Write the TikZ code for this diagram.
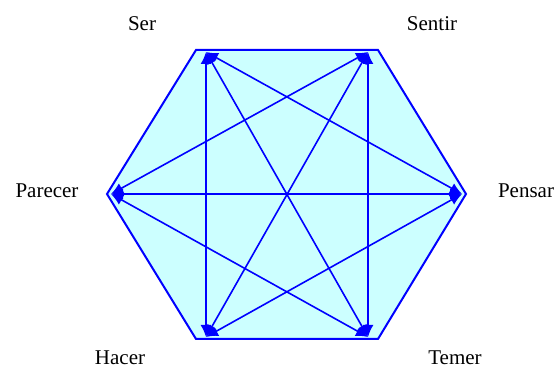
\documentclass[tikz,border=0pt]{standalone}
\usepackage{fontspec}
\setmainfont{Liberation Serif}
\usetikzlibrary{arrows.meta}
\definecolor{hexfill}{RGB}{204,255,255}
\definecolor{hexblue}{RGB}{0,0,255}
\begin{document}
\begin{tikzpicture}[x=1pt,y=-1pt,
	link/.style={hexblue,line width=1.6pt,{Latex[length=12pt,width=11pt]}-{Latex[length=12pt,width=11pt]}},
	word/.style={anchor=base,font=\fontsize{21}{24}\selectfont}]
				\useasboundingbox (0,0) rectangle (560,371);
				% corners of the hexagon
				\coordinate (c1) at (196,50);
				\coordinate (c2) at (378,50);
				\coordinate (c3) at (466,194);
				\coordinate (c4) at (378,339);
				\coordinate (c5) at (196,339);
				\coordinate (c6) at (107,194);
				% the six points
				\coordinate (Ser) at (206,52);
				\coordinate (Sentir) at (368,52);
				\coordinate (Pensar) at (462,194);
				\coordinate (Temer) at (368,337);
				\coordinate (Hacer) at (206,337);
				\coordinate (Parecer) at (111,194);
				\filldraw[fill=hexfill,draw=hexblue,line width=2pt] (c1)--(c2)--(c3)--(c4)--(c5)--(c6)--cycle;
				\foreach \a/\b in {Ser/Pensar,Ser/Temer,Ser/Hacer,Sentir/Hacer,Sentir/Temer,Sentir/Parecer,Pensar/Parecer,Pensar/Hacer,Temer/Parecer}
					\draw[link] (\a)--(\b);
				\node[word] (lSer) at (142,31) {Ser};
				\node[word] (lSentir) at (432,31) {Sentir};
				\node[word] (lPensar) at (526,198) {Pensar};
				\node[word] (lTemer) at (455,365) {Temer};
				\node[word] (lHacer) at (120,365) {Hacer};
				\node[word] (lParecer) at (47,198) {Parecer};
			\end{tikzpicture}
\end{document}
